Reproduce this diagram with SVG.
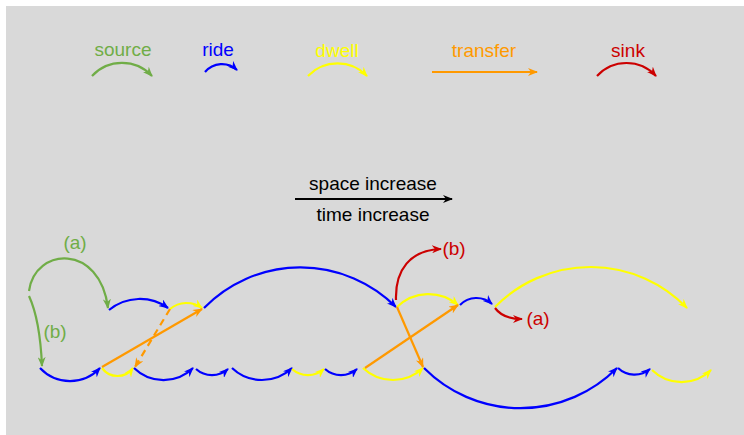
<svg xmlns="http://www.w3.org/2000/svg" width="744" height="435" viewBox="0 0 744 435">
<defs>
<style>
.t{font-family:"Liberation Sans",Arial,sans-serif;font-size:19px;text-anchor:middle}
.a{fill:none;stroke-width:2.2}
.g{stroke:#70ad47}.b{stroke:#0000ff}.y{stroke:#ffff00}.o{stroke:#ff9900}.r{stroke:#cc0000}.k{stroke:#000}
.mg{marker-end:url(#mg)}.mb{marker-end:url(#mb)}.my{marker-end:url(#my)}.mo{marker-end:url(#mo)}.mr{marker-end:url(#mr)}.mk{marker-end:url(#mk)}
</style>
<marker id="mg" viewBox="0 0 10 8" refX="9" refY="4" markerWidth="10" markerHeight="8" markerUnits="userSpaceOnUse" orient="auto"><path d="M0,0 L10,4 L0,8 L3,4 z" fill="#70ad47"/></marker>
<marker id="mb" viewBox="0 0 10 8" refX="9" refY="4" markerWidth="10" markerHeight="8" markerUnits="userSpaceOnUse" orient="auto"><path d="M0,0 L10,4 L0,8 L3,4 z" fill="#0000ff"/></marker>
<marker id="my" viewBox="0 0 10 8" refX="9" refY="4" markerWidth="10" markerHeight="8" markerUnits="userSpaceOnUse" orient="auto"><path d="M0,0 L10,4 L0,8 L3,4 z" fill="#ffff00"/></marker>
<marker id="mo" viewBox="0 0 10 8" refX="9" refY="4" markerWidth="10" markerHeight="8" markerUnits="userSpaceOnUse" orient="auto"><path d="M0,0 L10,4 L0,8 L3,4 z" fill="#ff9900"/></marker>
<marker id="mr" viewBox="0 0 10 8" refX="9" refY="4" markerWidth="10" markerHeight="8" markerUnits="userSpaceOnUse" orient="auto"><path d="M0,0 L10,4 L0,8 L3,4 z" fill="#cc0000"/></marker>
<marker id="mk" viewBox="0 0 10 8" refX="9" refY="4" markerWidth="10" markerHeight="8" markerUnits="userSpaceOnUse" orient="auto"><path d="M0,0 L10,4 L0,8 L3,4 z" fill="#000"/></marker>
</defs>
<rect x="6" y="6" width="738" height="429" fill="#d9d9d9"/>

<g id="legend">
<g id="legend-source"><text class="t" x="123" y="56" fill="#70ad47">source</text><path class="a g mg" d="M92,76 A41,41 0 0 1 152,76"/></g>
<g id="legend-ride"><text class="t" x="218" y="56" fill="#0000ff">ride</text><path class="a b mb" d="M205,72 A22,22 0 0 1 237,70"/></g>
<g id="legend-dwell"><text class="t" x="337" y="57" fill="#ffff00">dwell</text><path class="a y my" d="M308,76 A41,41 0 0 1 367,76"/></g>
<g id="legend-transfer"><text class="t" x="484" y="57" fill="#ff9900">transfer</text><path class="a o mo" d="M432,72 L537,72"/></g>
<g id="legend-sink"><text class="t" x="628" y="57" fill="#cc0000">sink</text><path class="a r mr" d="M597,76 A40,40 0 0 1 656,76"/></g>
</g>

<g id="axis">
<text class="t" x="373" y="190" fill="#000">space increase</text>
<path class="a k mk" d="M295,199 L452,199"/>
<text class="t" x="373" y="221" fill="#000">time increase</text>
</g>

<g id="labels">
<text class="t" x="75" y="249" fill="#70ad47">(a)</text>
<text class="t" x="55" y="338" fill="#70ad47">(b)</text>
<text class="t" x="454" y="255" fill="#cc0000">(b)</text>
<text class="t" x="538" y="325" fill="#cc0000">(a)</text>
</g>

<g id="connectors">
<path class="a g mg" d="M29,291 C35,247 100,243 108,308"/>
<path class="a g mg" d="M29,296 Q40,320 42,366"/>
<path class="a b mb" d="M109,310 A48.5,48.5 0 0 1 168,308"/>
<path class="a y my" d="M170,309 A26,26 0 0 1 202,308"/>
<path class="a b mb" d="M204,308 A135,135 0 0 1 396,307"/>
<path class="a y my" d="M397,307 A45,45 0 0 1 458,305"/>
<path class="a b mb" d="M460,305 A23,23 0 0 1 492,304"/>
<path class="a y my" d="M495,307 A134,134 0 0 1 687,308"/>
<path class="a b mb" d="M40,368 A41,41 0 0 0 100,368"/>
<path class="a y my" d="M102,368 A19,19 0 0 0 133,368"/>
<path class="a b mb" d="M134,368 A42,42 0 0 0 193,368"/>
<path class="a b mb" d="M196,369 A24,24 0 0 0 228,369"/>
<path class="a b mb" d="M232,368 A43.5,43.5 0 0 0 292,368"/>
<path class="a y my" d="M292,369 A24,24 0 0 0 324,369"/>
<path class="a b mb" d="M325,369 A24,24 0 0 0 357,369"/>
<path class="a y my" d="M363,368 A43.5,43.5 0 0 0 423,368"/>
<path class="a b mb" d="M424,368 A136,136 0 0 0 617,368"/>
<path class="a b mb" d="M618,368 A24,24 0 0 0 650,369"/>
<path class="a y my" d="M652,370 A42,42 0 0 0 711,370"/>
<path class="a o mo" d="M102,367 L202,309"/>
<path class="a o mo" d="M170,309 L135,367" stroke-dasharray="7,5"/>
<path class="a o mo" d="M365,368 L458,305"/>
<path class="a o mo" d="M397,307 L423,367"/>
<path class="a r mr" d="M396,300 C395,270 410,250 441,249"/>
<path class="a r mr" d="M495,308 Q503,319 522,319"/>
</g>
</svg>
